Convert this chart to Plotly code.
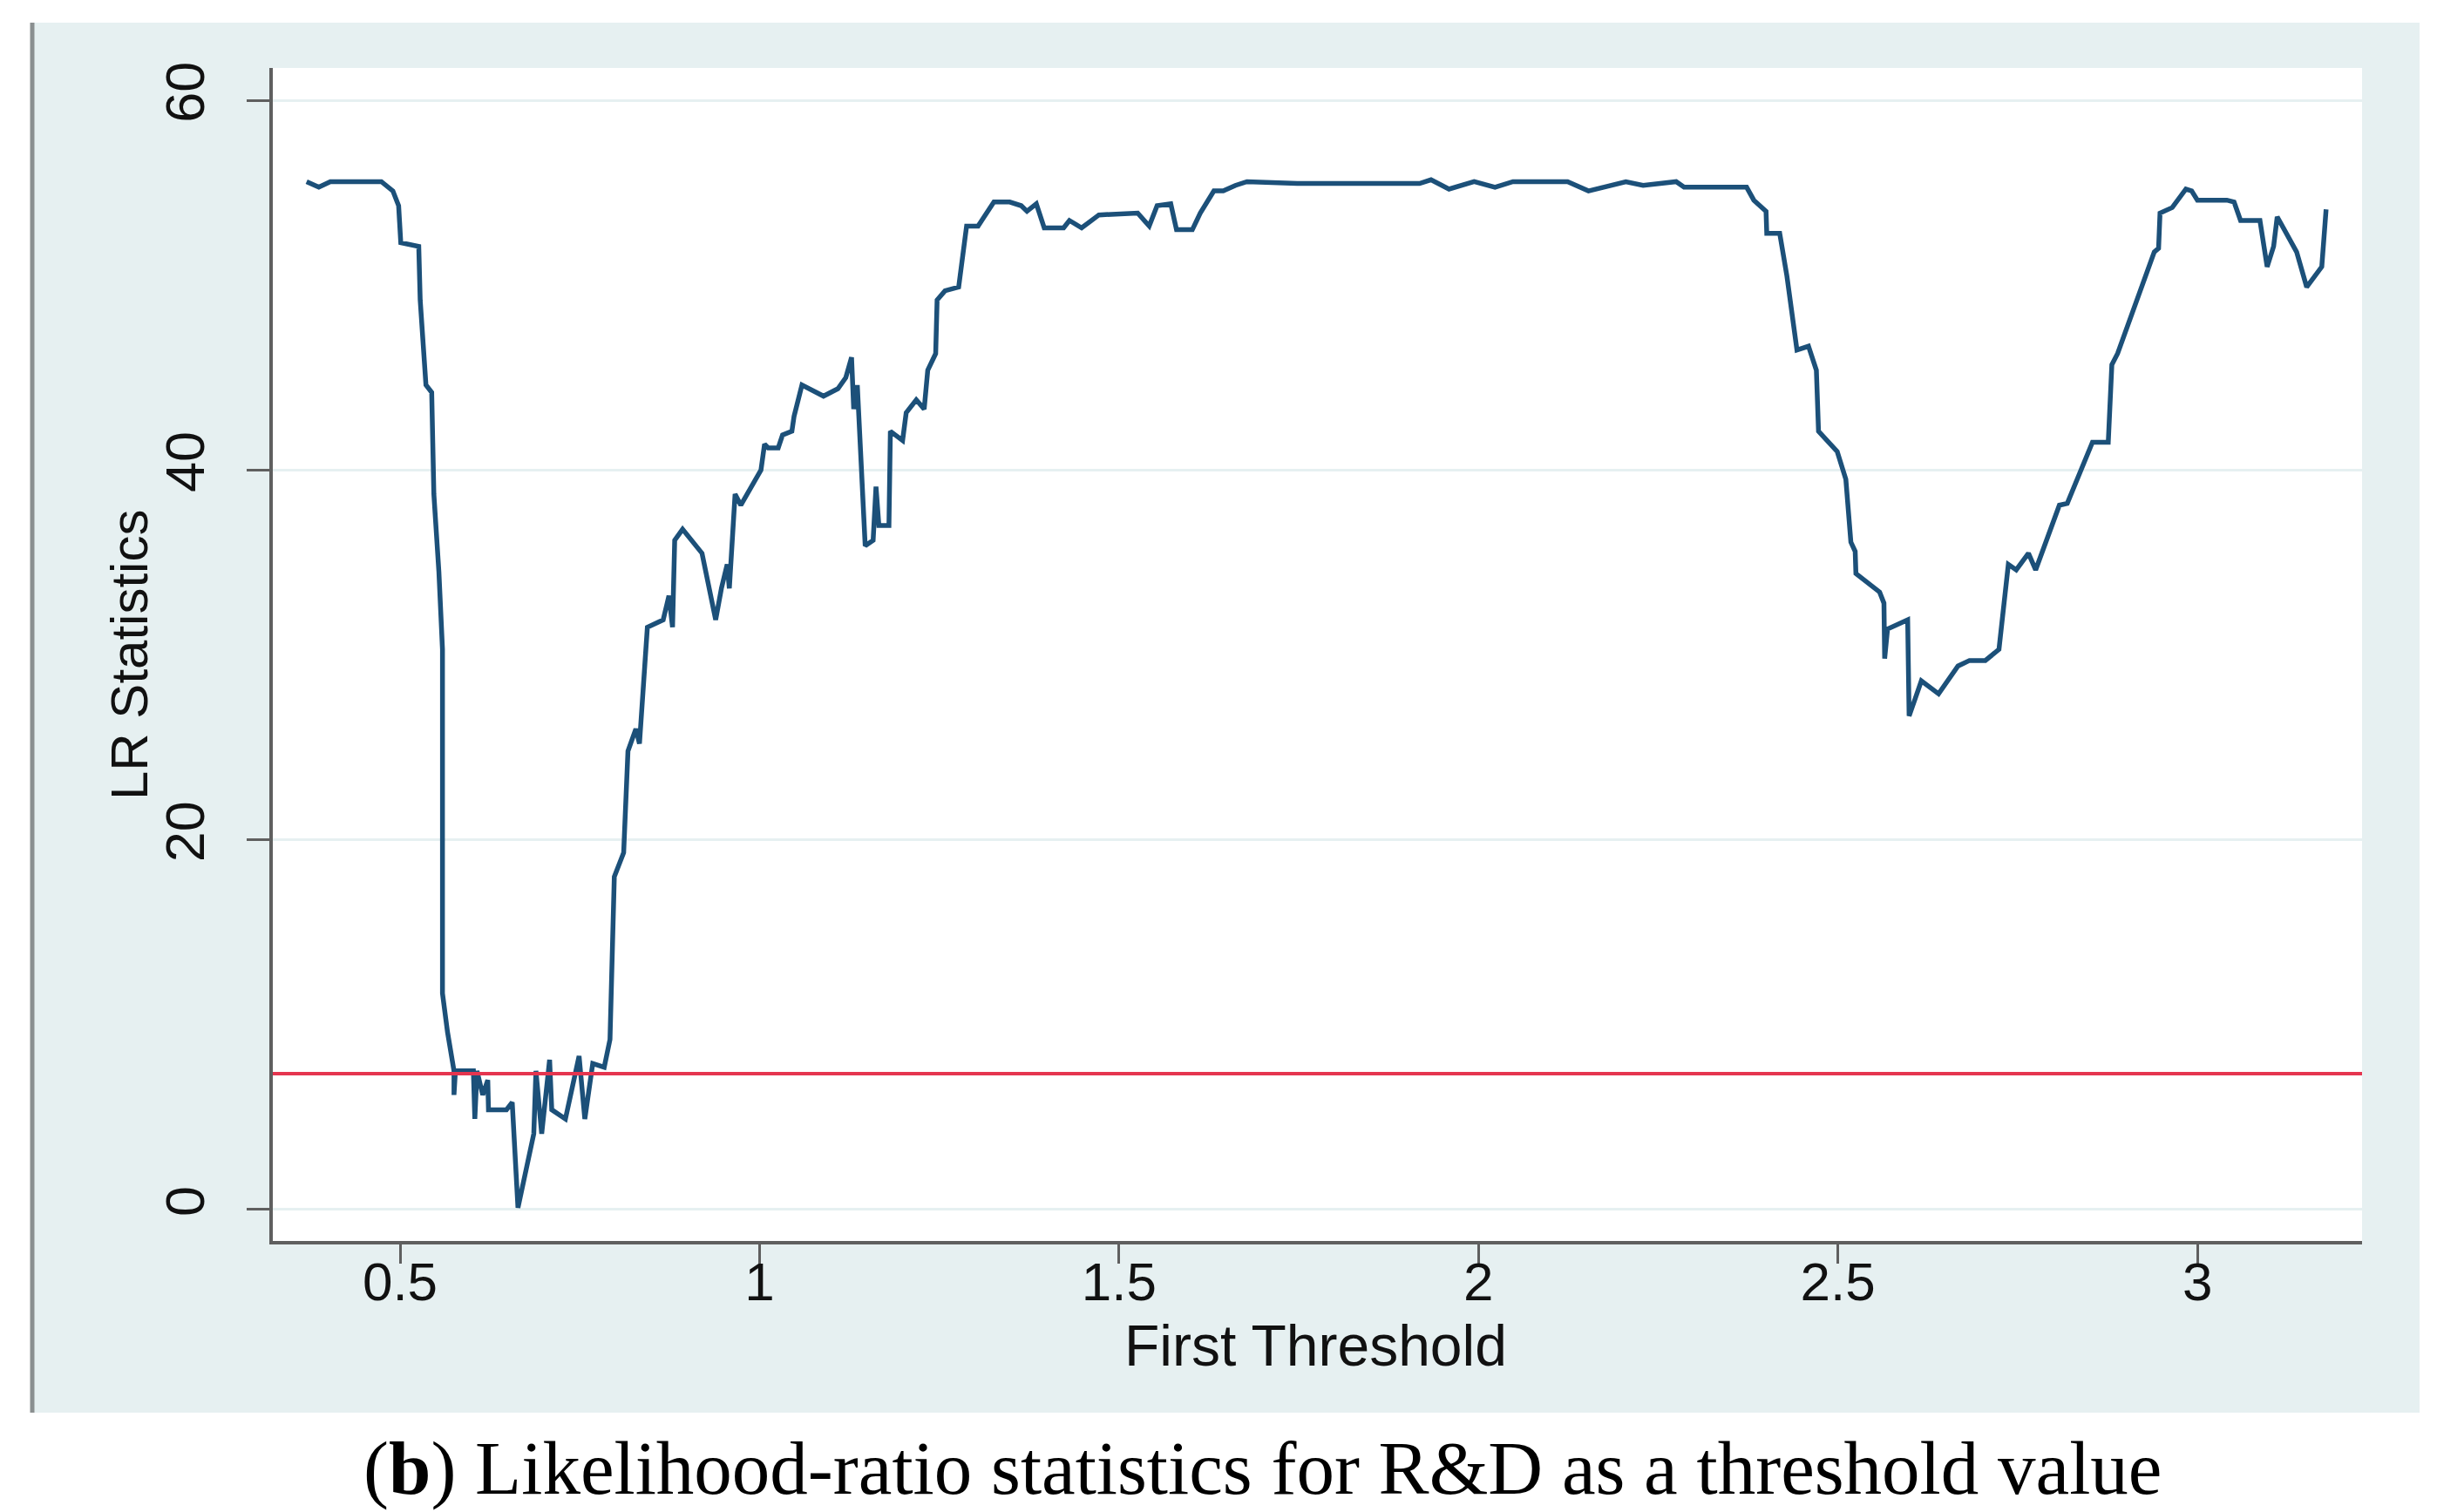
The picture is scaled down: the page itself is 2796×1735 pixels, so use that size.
import plotly.graph_objects as go

# ---- data ----
threshold = [
    0.370, 0.387, 0.403, 0.447, 0.474, 0.490, 0.498, 0.501, 0.526, 0.528,
    0.536, 0.544, 0.547, 0.554, 0.559, 0.559, 0.566, 0.575, 0.575, 0.577,
    0.602, 0.604, 0.607, 0.615, 0.622, 0.623, 0.648, 0.656, 0.664, 0.686,
    0.689, 0.697, 0.708, 0.711, 0.730, 0.749, 0.757, 0.768, 0.784, 0.792,
    0.798, 0.811, 0.817, 0.828, 0.833, 0.844, 0.866, 0.874, 0.879, 0.882,
    0.893, 0.920, 0.939, 0.947, 0.955, 0.958, 0.966, 0.974, 1.002, 1.007,
    1.012, 1.026, 1.032, 1.045, 1.048, 1.059, 1.089, 1.109, 1.120, 1.128,
    1.131, 1.136, 1.147, 1.158, 1.162, 1.166, 1.180, 1.182, 1.199, 1.204,
    1.218, 1.229, 1.234, 1.245, 1.247, 1.258, 1.277, 1.288, 1.304, 1.326,
    1.348, 1.364, 1.372, 1.385, 1.396, 1.423, 1.431, 1.448, 1.472, 1.526,
    1.542, 1.553, 1.572, 1.580, 1.602, 1.613, 1.632, 1.645, 1.662, 1.678,
    1.748, 1.848, 1.918, 1.934, 1.959, 1.994, 2.023, 2.048, 2.124, 2.153,
    2.205, 2.229, 2.275, 2.286, 2.373, 2.383, 2.400, 2.401, 2.419, 2.429,
    2.443, 2.459, 2.470, 2.473, 2.499, 2.511, 2.518, 2.524, 2.525, 2.558,
    2.564, 2.565, 2.569, 2.597, 2.599, 2.608, 2.616, 2.640, 2.667, 2.683,
    2.705, 2.724, 2.737, 2.748, 2.765, 2.775, 2.808, 2.819, 2.854, 2.876,
    2.881, 2.889, 2.940, 2.946, 2.948, 2.965, 2.984, 2.992, 3.000, 3.041,
    3.051, 3.060, 3.087, 3.097, 3.106, 3.111, 3.138, 3.152, 3.173, 3.179,
]
lr_stat = [
    55.6, 55.3, 55.6, 55.6, 55.6, 55.1, 54.3, 52.3, 52.1, 49.2,
    44.6, 44.2, 38.7, 34.5, 30.3, 11.7, 9.6, 7.5, 6.2, 7.5,
    7.5, 4.9, 7.5, 6.2, 7.0, 5.4, 5.4, 5.8, 0.1, 4.1,
    7.5, 4.1, 8.1, 5.4, 4.9, 8.3, 4.9, 7.9, 7.7, 9.2,
    18.0, 19.3, 24.8, 26.0, 25.2, 31.5, 31.9, 33.2, 31.5, 36.2,
    36.8, 35.5, 31.9, 33.6, 34.9, 33.6, 38.7, 38.1, 40.0, 41.4,
    41.2, 41.2, 41.9, 42.1, 42.9, 44.6, 44.0, 44.4, 45.0, 46.1,
    43.3, 44.6, 35.9, 36.2, 39.1, 37.0, 37.0, 42.1, 41.6, 43.1,
    43.8, 43.3, 45.4, 46.3, 49.2, 49.7, 49.9, 53.2, 53.2, 54.5,
    54.5, 54.3, 54.0, 54.4, 53.1, 53.1, 53.5, 53.1, 53.8, 53.9,
    53.2, 54.3, 54.4, 53.0, 53.0, 53.9, 55.1, 55.1, 55.4, 55.6,
    55.5, 55.5, 55.5, 55.7, 55.2, 55.6, 55.3, 55.6, 55.6, 55.1,
    55.6, 55.4, 55.6, 55.3, 55.3, 54.6, 54.0, 52.8, 52.8, 50.5,
    46.5, 46.7, 45.4, 42.1, 41.0, 39.5, 36.1, 35.6, 34.4, 33.4,
    32.8, 29.8, 31.4, 31.9, 26.7, 27.7, 28.6, 27.9, 29.4, 29.7,
    29.7, 30.3, 34.9, 34.6, 35.5, 34.6, 38.1, 38.2, 41.5, 41.5,
    45.7, 46.3, 51.8, 52.0, 53.9, 54.2, 55.2, 55.1, 54.6, 54.6,
    54.5, 53.5, 53.5, 51.0, 52.1, 53.7, 51.8, 49.9, 51.0, 54.1,
]
critical_value = 7.35
x_ticks = [0.5, 1, 1.5, 2, 2.5, 3]
x_tick_labels = ["0.5", "1", "1.5", "2", "2.5", "3"]
y_ticks = [0, 20, 40, 60]
y_tick_labels = ["0", "20", "40", "60"]

x_title = "First Threshold"
y_title = "LR Statistics"
caption = "(<b>b</b>) Likelihood-ratio statistics for R&amp;D as a threshold value"

# ---- layout geometry (pixels) ----
W, H = 2796, 1735
PL, PR, PT, PB = 305, 2702, 70, 1416          # plot area
pw, ph = PR - PL, PB - PT


def px(x):
    return (x - PL) / pw


def py(y):
    return (PB - y) / ph


PANEL = "#e6f0f1"
AXIS = "#5f5f5f"
SANS = "Liberation Sans, Arial, sans-serif"

fig = go.Figure()
fig.add_trace(go.Scatter(
    x=threshold, y=lr_stat, mode="lines",
    line=dict(color="#1c5079", width=5.5),
    showlegend=False, hoverinfo="x+y",
))

fig.update_layout(
    width=W, height=H,
    margin=dict(l=PL, r=W - PR, t=PT, b=H - PB, pad=0),
    paper_bgcolor="white", plot_bgcolor="white",
    font=dict(family=SANS, color="#111111"),
    xaxis=dict(
        range=[0.323, 3.229], tickmode="array", tickvals=x_ticks, ticktext=x_tick_labels,
        showgrid=False, zeroline=False, showline=True, linecolor=AXIS, linewidth=4,
        ticks="outside", ticklen=22, tickwidth=3, tickcolor=AXIS,
        ticklabelstandoff=-32,
        tickfont=dict(size=62, family=SANS, color="#111111"),
    ),
    yaxis=dict(
        range=[-1.70, 61.75], tickmode="array", tickvals=y_ticks, ticktext=y_tick_labels,
        showgrid=True, gridcolor=PANEL, gridwidth=3, zeroline=False,
        showline=True, linecolor=AXIS, linewidth=4,
        ticks="outside", ticklen=26, tickwidth=3, tickcolor=AXIS, tickangle=-90,
        ticklabelstandoff=24,
        tickfont=dict(size=63, family=SANS, color="#111111"),
    ),
    annotations=[
        dict(text=x_title, xref="paper", yref="paper", x=px(1501), y=py(1536),
             xanchor="center", yanchor="middle", showarrow=False,
             font=dict(size=66, family=SANS, color="#111111")),
        dict(text=y_title, xref="paper", yref="paper", x=px(140), y=py(744),
             xanchor="center", yanchor="middle", showarrow=False, textangle=-90,
             font=dict(size=60, family=SANS, color="#111111")),
        dict(text=caption, xref="paper", yref="paper", x=px(1440), y=py(1676),
             xanchor="center", yanchor="middle", showarrow=False,
             font=dict(size=87, family="Liberation Serif, Times New Roman, serif", color="#000000")),
    ],
)

# background panel, its left border and the white plot region (below gridlines)
fig.add_shape(type="rect", xref="paper", yref="paper", layer="below",
              x0=px(27), x1=px(2768), y0=py(1613), y1=py(18),
              fillcolor=PANEL, line=dict(width=0))
fig.add_shape(type="line", xref="paper", yref="paper", layer="below",
              x0=px(29), x1=px(29), y0=py(1613), y1=py(18),
              line=dict(color="#8a8f90", width=5))
fig.add_shape(type="rect", xref="paper", yref="paper", layer="below",
              x0=0, x1=1, y0=0, y1=1,
              fillcolor="white", line=dict(width=0))
# critical value line
fig.add_hline(y=critical_value, line=dict(color="#e5354f", width=4), layer="above")

fig.write_html("out.html")
